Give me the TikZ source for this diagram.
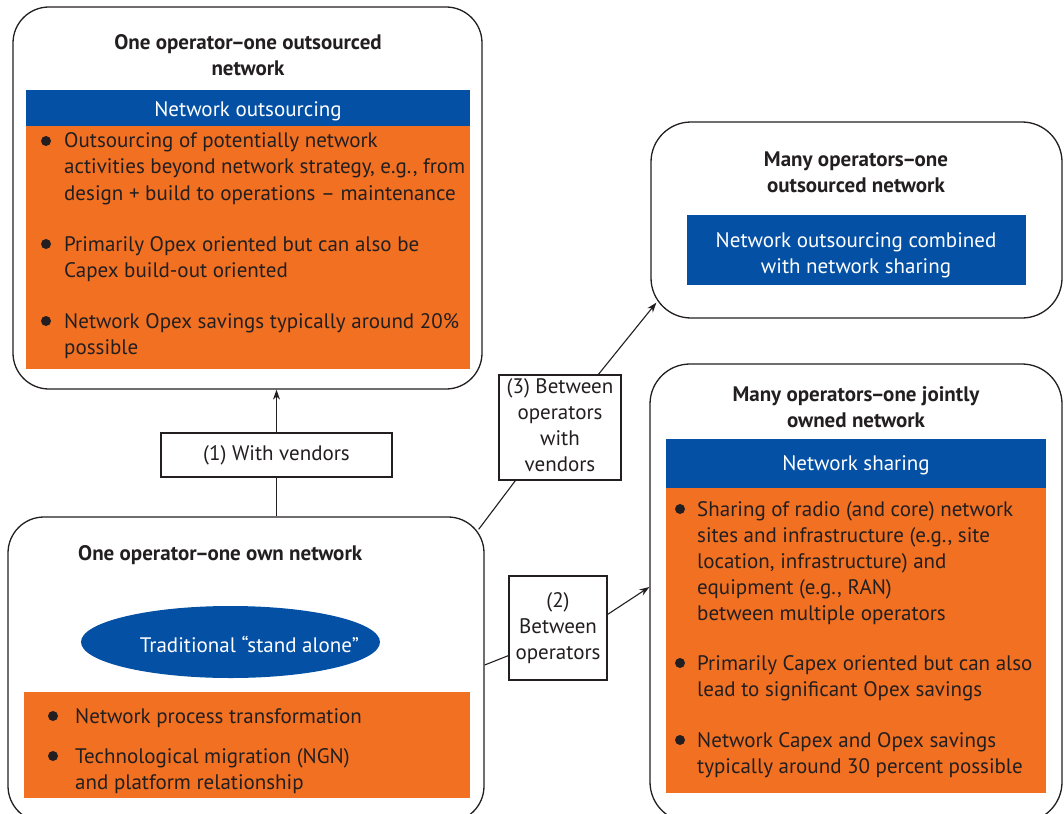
\documentclass[tikz,border=0pt]{standalone}
\usepackage{fontspec}
\setmainfont{PT Sans}
\usetikzlibrary{arrows.meta,calc,shapes.geometric}

\definecolor{netblue}{RGB}{4,80,164}
\definecolor{netorange}{RGB}{241,112,34}
\definecolor{ink}{RGB}{35,31,32}

% stacked lines whose baseline is that of the first line
\newcommand{\toplines}[2]{\begin{tabular}[t]{@{}#1@{}}#2\end{tabular}}
% stacked lines centred as a block
\newcommand{\midlines}[1]{\begin{tabular}{@{}c@{}}#1\end{tabular}}
% tight en dash for the headings
\newcommand{\tdash}{\kern-1.5pt–\kern-1.5pt}
% one bullet: name, dot x, text x, first baseline, lines
\newcommand{\bulletitem}[5]{%
  \fill[ink] (#2,#4-7) circle (5pt);
  \node[txt, anchor=base west] (#1) at (#3,#4) {\toplines{l}{#5}};
}

\tikzset{
  panel/.style={draw=ink, line width=1.3pt, rounded corners=36pt, inner sep=0pt, fill=white},
  bar/.style={fill=netblue, draw=none, inner sep=0pt},
  pad/.style={fill=netorange, draw=none, inner sep=0pt},
  tag/.style={draw=ink, line width=1.2pt, fill=white, inner sep=0pt, text=ink,
    font=\fontsize{21}{26}\selectfont},
  txt/.style={inner sep=0pt, text=ink, font=\fontsize{21}{26}\selectfont},
  head/.style={inner sep=0pt, text=ink, font=\fontsize{21}{26}\selectfont\bfseries, anchor=base},
  wtxt/.style={inner sep=0pt, text=white, font=\fontsize{21}{26}\selectfont, anchor=base},
  link/.style={draw=ink, line width=1.1pt},
  arrow/.style={link, -{Stealth[length=10pt,width=7pt]}},
}

\begin{document}
\begin{tikzpicture}[x=1pt, y=-1pt]
\useasboundingbox (0,0) rectangle (1064,813);
\clip (0,0) rectangle (1064,813);
\fill[white] (0,0) rectangle (1064,813);

% ---------- one operator, one outsourced network ----------
\node[panel, minimum width=469pt, minimum height=382pt] (A) at (247.5,198) {};
\node[head] (tA) at (248,50) {\toplines{c}{One operator\tdash one outsourced\\network}};
\node[bar, minimum width=444pt, minimum height=36pt] (bA) at (248,108) {};
\node[wtxt] (bAt) at (248,117) {Network outsourcing};
\node[pad, minimum width=444pt, minimum height=243pt] (oA) at (248,247.5) {};
\bulletitem{a1}{46}{64}{148}{Outsourcing of potentially network\\activities beyond network strategy, e.g., from\\design + build to operations – maintenance}
\bulletitem{a2}{46}{64}{251}{Primarily Opex oriented but can also be\\Capex build-out oriented}
\bulletitem{a3}{46}{64}{328}{Network Opex savings typically around 20\%\\possible}

% ---------- many operators, one outsourced network ----------
\node[panel, rounded corners=40pt, minimum width=411pt, minimum height=196pt] (B) at (856.5,220) {};
\node[head] (tB) at (856,167) {\toplines{c}{Many operators\tdash one\\outsourced network}};
\node[bar, minimum width=339pt, minimum height=70pt] (bB) at (856.5,250) {};
\node[wtxt] (bBt) at (856,247) {\toplines{c}{Network outsourcing combined\\with network sharing}};

% ---------- many operators, one jointly owned network ----------
\node[panel, rounded corners=40pt, minimum width=412pt, minimum height=458pt] (C) at (856,593) {};
\node[head] (tC) at (856,401) {\toplines{c}{Many operators\tdash one jointly\\owned network}};
\node[bar, minimum width=380pt, minimum height=49pt] (bC) at (856,463.5) {};
\node[wtxt] (bCt) at (856,470) {Network sharing};
\node[pad, minimum width=380pt, minimum height=305pt] (oC) at (856,640.5) {};
\bulletitem{c1}{680}{697}{516}{Sharing of radio (and core) network\\sites and infrastructure (e.g., site\\location, infrastructure) and\\equipment (e.g., RAN)\\between multiple operators}
\bulletitem{c2}{680}{697}{670}{Primarily Capex oriented but can also\\lead to significant Opex savings}
\bulletitem{c3}{680}{697}{747}{Network Capex and Opex savings\\typically around 30 percent possible}

% ---------- one operator, one own network ----------
\node[panel, minimum width=476pt, minimum height=305pt] (D) at (246,669.5) {};
\node[head, anchor=base west] (tD) at (78,560) {One operator\tdash one own network};
\node[ellipse, fill=netblue, inner sep=0pt, minimum width=299pt, minimum height=72pt] (eD) at (230.5,642) {};
\node[wtxt] (eDt) at (249.5,652) {Traditional “stand alone”};
\node[pad, minimum width=446pt, minimum height=106pt] (oD) at (247,745) {};
\bulletitem{d1}{53}{75}{723}{Network process transformation}
\bulletitem{d2}{53}{75}{763}{Technological migration (NGN)\\and platform relationship}

% ---------- relation labels ----------
\node[tag, minimum width=231pt, minimum height=44pt] (L1) at (276.5,455) {\midlines{(1) With vendors}};
\node[tag, minimum width=122pt, minimum height=105pt] (L3) at (560,427.5) {\midlines{(3) Between\\operators\\with\\vendors}};
\node[tag, minimum width=98pt, minimum height=104pt] (L2) at (558,628) {\midlines{(2)\\Between\\operators}};

% ---------- connectors ----------
\draw[link] (L1.south) -- (L1.south |- D.north);
\draw[arrow] (L1.north) -- (L1.north |- A.south);

\coordinate (d3) at ($(D.north east)+(-6,13)$);
\coordinate (l3in) at ($(L3.south west)+(17,0)$);
\coordinate (l3out) at ($(L3.north west)+(100,0)$);
\coordinate (b3) at ($(B.south west)+(6,-16)$);
\draw[link] (d3) -- (l3in);
\draw[arrow] (l3out) -- (b3);

\coordinate (d2) at ($(D.east)+(0,-4.5)$);
\coordinate (l2in) at ($(L2.south west)+(0,-25)$);
\coordinate (l2out) at ($(L2.north east)+(0,39)$);
\coordinate (c2) at ($(C.west)+(0,-6)$);
\draw[link] (d2) -- (l2in);
\draw[arrow] (l2out) -- (c2);
\end{tikzpicture}
\end{document}
